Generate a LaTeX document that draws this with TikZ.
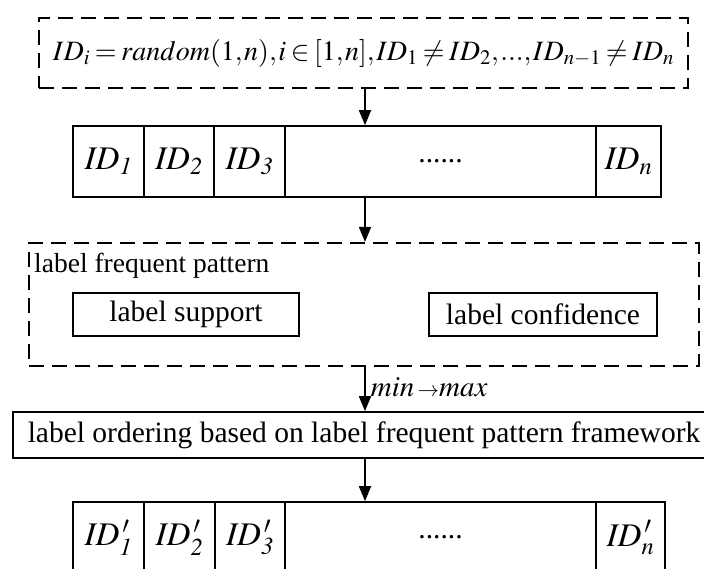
\documentclass[tikz,border=0pt]{standalone}
\usepackage{mathptmx}
\usepackage{fontspec}
\setmainfont{Liberation Serif}
\usetikzlibrary{arrows.meta}

\tikzset{
  dbox/.style={draw, dash pattern=on 15pt off 8pt, line width=2.2pt, inner sep=0pt},
  sbox/.style={draw, line width=1.7pt, inner sep=0pt},
  cell/.style={sbox, minimum height=71pt, font=\fontsize{33}{38}\selectfont},
  txt/.style={font=\fontsize{29.5}{35}\selectfont},
  flow/.style={line width=1.8pt, -{Triangle[length=15pt,width=12pt]}}
}

\begin{document}
\begin{tikzpicture}[x=1pt,y=-1pt]
\useasboundingbox (0,0) rectangle (704,568);
\clip (0,0) rectangle (704,568);

\coordinate (ax) at (365,0);

% random identifiers
\node[dbox, minimum width=649pt, minimum height=70pt, font=\fontsize{28}{34}\selectfont] (gen) at (363.5,53)
  {\thinmuskip=1mu\medmuskip=2mu\thickmuskip=3mu
   $ID_i = random(1,n),i\in[1,n],ID_1\neq ID_2,...,ID_{n-1}\neq ID_n$};

% first identifier row
\node[cell, minimum width=71pt] (a1) at (108.5,161.5) {$\mathit{ID}_{\mathit{1}}$};
\node[cell, minimum width=70pt] (a2) at (179,161.5) {$\mathit{ID}_{\mathit{2}}$};
\node[cell, minimum width=71pt] (a3) at (249.5,161.5) {$\mathit{ID}_{\mathit{3}}$};
\node[cell, minimum width=311pt, txt] (a4) at (440.5,161.5) {......};
\node[cell, minimum width=65pt] (a5) at (628.5,161.5) {$\mathit{ID}_{\mathit{n}}$};

% label frequent pattern group
\node[dbox, minimum width=670pt, minimum height=123pt] (lfp) at (364,304.5) {};
\node[anchor=west, inner sep=0pt, font=\fontsize{27.5}{33}\selectfont] (lfpt) at (34,266) {label frequent pattern};
\node[sbox, txt, minimum width=226pt, minimum height=43pt] (sup) at (186,314.5) {label support};
\node[sbox, txt, minimum width=228pt, minimum height=43pt] (conf) at (543,314.5) {label confidence};

% ordering
\node[sbox, txt, minimum width=702pt, minimum height=46pt] (ord) at (364,435)
  {label ordering based on label frequent pattern framework};

% reordered identifier row
\node[cell, minimum width=71pt] (b1) at (108.5,537.5) {$\mathit{ID}_{\mathit{1}}^{\,\prime}$};
\node[cell, minimum width=71pt] (b2) at (179.5,537.5) {$\mathit{ID}_{\mathit{2}}^{\,\prime}$};
\node[cell, minimum width=70pt] (b3) at (250,537.5) {$\mathit{ID}_{\mathit{3}}^{\,\prime}$};
\node[cell, minimum width=311pt, txt] (b4) at (440.5,537.5) {......};
\node[cell, minimum width=69pt] (b5) at (630.5,537.5) {$\mathit{ID}_{\mathit{n}}^{\,\prime}$};

% connectors
\draw[flow] (gen.south -| ax) -- (a4.north -| ax);
\draw[flow] (a4.south -| ax) -- (lfp.north -| ax);
\draw[flow] (lfp.south -| ax) -- (ord.north -| ax)
  node[pos=0.45, anchor=west, inner sep=0pt, xshift=5pt, font=\fontsize{29}{34}\selectfont] (mm)
  {$\mathit{min}\,{\scriptstyle\rightarrow}\mathit{max}$};
\draw[flow] (ord.south -| ax) -- (b4.north -| ax);
\end{tikzpicture}
\end{document}
